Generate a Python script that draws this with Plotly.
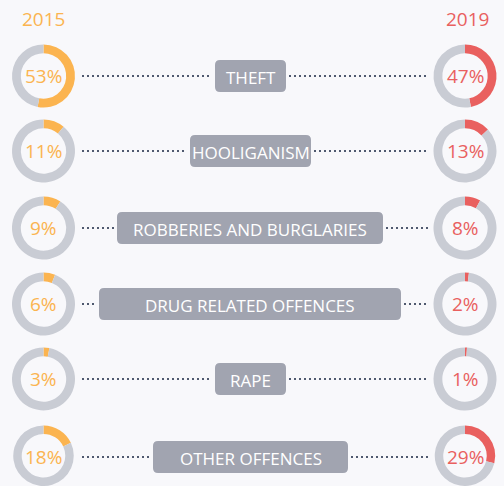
import plotly.graph_objects as go

# data
years = ["2015", "2019"]
categories = ["THEFT", "HOOLIGANISM", "ROBBERIES AND BURGLARIES",
              "DRUG RELATED OFFENCES", "RAPE", "OTHER OFFENCES"]
share_2015 = [53, 11, 9, 6, 3, 18]
share_2019 = [47, 13, 8, 2, 1, 29]

# layout helpers (pixel space)
W, H = 504, 486
row_y = [76, 151, 228, 304, 379, 457]
box_x0 = [215, 190, 117, 99, 215, 153]
box_x1 = [286, 311, 383, 401, 286, 348]
left_cx, right_cx, radius = 43.5, 465, 31.5

orange = "#fbb450"
red = "#e9605f"
ring = "#c9ccd4"
box_col = "#a1a4b0"
dot_col = "#4f596f"
font = "Open Sans"


def rounded_rect(x0, y0, x1, y1, r=5):
    return (f"M{x0+r},{y0} L{x1-r},{y0} Q{x1},{y0} {x1},{y0+r} "
            f"L{x1},{y1-r} Q{x1},{y1} {x1-r},{y1} L{x0+r},{y1} "
            f"Q{x0},{y1} {x0},{y1-r} L{x0},{y0+r} Q{x0},{y0} {x0+r},{y0} Z")


def pie_domain(cx, cy, r):
    x = [max(0, (cx - r) / W), min(1, (cx + r) / W)]
    y = [max(0, 1 - (cy + r) / H), min(1, 1 - (cy - r) / H)]
    return dict(x=x, y=y)


fig = go.Figure()
shapes = []
annotations = []

for i, cat in enumerate(categories):
    cy = row_y[i]
    for val, cx, col in [(share_2015[i], left_cx, orange),
                         (share_2019[i], right_cx, red)]:
        fig.add_trace(go.Pie(
            values=[val, 100 - val],
            marker=dict(colors=[col, ring], line=dict(width=0)),
            hole=0.72, sort=False, direction="clockwise", rotation=0,
            textinfo="none", hoverinfo="skip", showlegend=False,
            domain=pie_domain(cx, cy, radius)
        ))
        annotations.append(dict(
            x=cx, y=cy, xref="x", yref="y", text=f"{val}%", showarrow=False,
            font=dict(family=font, size=19, color=col)
        ))

    # label box
    shapes.append(dict(type="path", xref="x", yref="y",
                       path=rounded_rect(box_x0[i], cy - 16, box_x1[i], cy + 16),
                       fillcolor=box_col, line=dict(width=0), layer="above"))
    annotations.append(dict(
        x=(box_x0[i] + box_x1[i]) / 2, y=cy + 1, xref="x", yref="y",
        text=cat, showarrow=False,
        font=dict(family=font, size=17, color="white")
    ))

    # dotted connectors
    for xa, xb in [(82, box_x0[i] - 3), (box_x1[i] + 3, 428)]:
        shapes.append(dict(type="line", xref="x", yref="y",
                           x0=xa, x1=xb, y0=cy, y1=cy,
                           line=dict(color=dot_col, width=2, dash="2px,3px")))

# year headers
for yr, cx, col in [(years[0], left_cx, orange), (years[1], right_cx + 2, red)]:
    annotations.append(dict(
        x=cx, y=19, xref="x", yref="y", text=yr, showarrow=False,
        font=dict(family=font, size=19, color=col)
    ))

fig.update_layout(
    width=W, height=H,
    margin=dict(l=0, r=0, t=0, b=0),
    paper_bgcolor="#f8f8fb", plot_bgcolor="rgba(0,0,0,0)",
    xaxis=dict(range=[0, W], visible=False, fixedrange=True),
    yaxis=dict(range=[H, 0], visible=False, fixedrange=True),
    shapes=shapes, annotations=annotations,
    showlegend=False
)

fig.write_html("out.html", config={"displayModeBar": False},
               post_script="document.body.style.margin='0';")
